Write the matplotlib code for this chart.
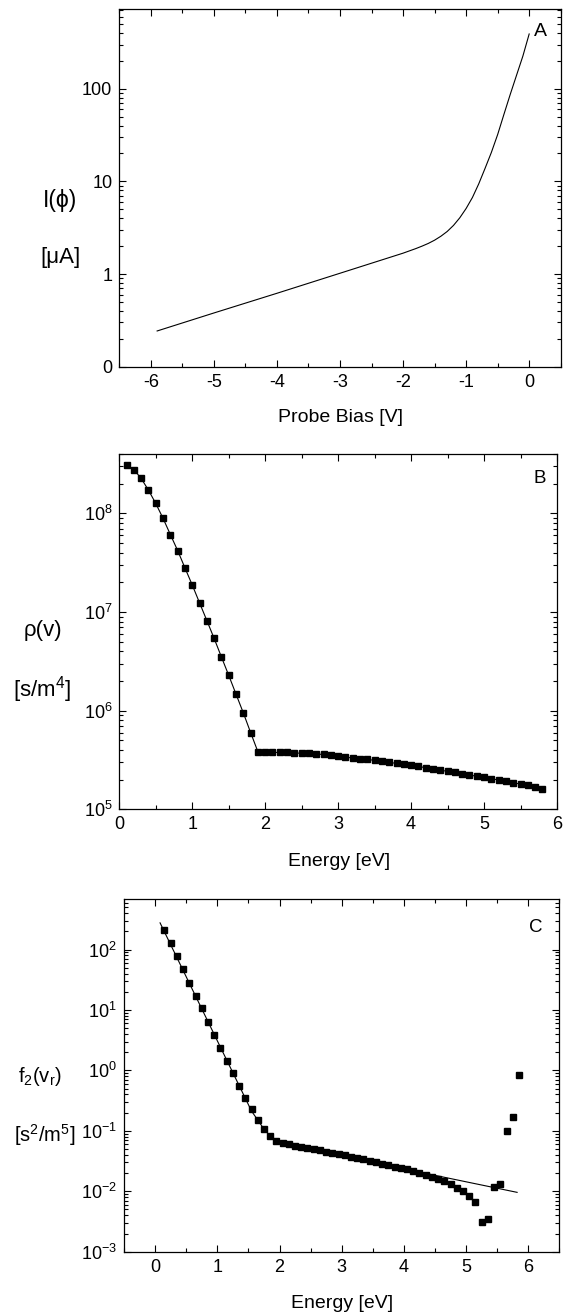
"""
Langmuir probe I-V curve and derived distributions (panels A, B, C)
"""
import matplotlib
matplotlib.use('Agg')
import matplotlib.pyplot as plt
from matplotlib.ticker import (FixedLocator, FixedFormatter, LogLocator,
                               MultipleLocator, LogFormatterMathtext, NullFormatter)

plt.rcParams['font.family'] = ['Liberation Sans', 'DejaVu Sans']
plt.rcParams['mathtext.fontset'] = 'custom'
plt.rcParams['mathtext.rm'] = 'Liberation Sans'
plt.rcParams['mathtext.it'] = 'Liberation Sans:italic'
plt.rcParams['mathtext.default'] = 'rm'
plt.rcParams['axes.unicode_minus'] = False

# Panel A: probe current vs bias
bias = [-5.9, -5.0, -4.0, -3.0, -2.0, -1.8, -1.7, -1.6, -1.5, -1.4, -1.3, -1.2,
        -1.1, -1.0, -0.9, -0.8, -0.7, -0.6, -0.5, -0.4, -0.3, -0.2, -0.1, 0.0]
current = [0.243, 0.38, 0.62, 1.02, 1.68, 1.88, 2.0, 2.14, 2.32, 2.56, 2.88, 3.35,
           4.05, 5.1, 6.7, 9.4, 13.8, 20.5, 32.0, 53.0, 87.0, 140.0, 225.0, 390.0]

# Panel B: rho(v) vs energy
energy_b = [0.1, 0.2, 0.3, 0.4, 0.5, 0.6, 0.7, 0.8, 0.9, 1.0,
            1.1, 1.2, 1.3, 1.4, 1.5, 1.6, 1.7, 1.8, 1.9, 2.0,
            2.1, 2.2, 2.3, 2.4, 2.5, 2.6, 2.7, 2.8, 2.9, 3.0,
            3.1, 3.2, 3.3, 3.4, 3.5, 3.6, 3.7, 3.8, 3.9, 4.0,
            4.1, 4.2, 4.3, 4.4, 4.5, 4.6, 4.7, 4.8, 4.9, 5.0,
            5.1, 5.2, 5.3, 5.4, 5.5, 5.6, 5.7, 5.8]
rho = [3.1e8, 2.78e8, 2.26e8, 1.72e8, 1.26e8, 8.9e7, 6.1e7, 4.2e7, 2.8e7, 1.88e7,
       1.24e7, 8.2e6, 5.4e6, 3.5e6, 2.28e6, 1.47e6, 9.5e5, 6.0e5, 3.83e5, 3.77e5,
       3.77e5, 3.77e5, 3.80e5, 3.74e5, 3.69e5, 3.69e5, 3.63e5, 3.60e5, 3.52e5, 3.46e5,
       3.38e5, 3.31e5, 3.26e5, 3.21e5, 3.13e5, 3.06e5, 2.99e5, 2.92e5, 2.85e5, 2.79e5,
       2.72e5, 2.64e5, 2.58e5, 2.50e5, 2.42e5, 2.37e5, 2.30e5, 2.23e5, 2.16e5, 2.11e5,
       2.04e5, 1.98e5, 1.92e5, 1.86e5, 1.80e5, 1.75e5, 1.70e5, 1.62e5]

# Panel C: f2(vr) vs energy, with fitted curve
energy_c = [0.15, 0.25, 0.35, 0.45, 0.55, 0.65, 0.75, 0.85, 0.95, 1.05,
            1.15, 1.25, 1.35, 1.45, 1.55, 1.65, 1.75, 1.85, 1.95, 2.05,
            2.15, 2.25, 2.35, 2.45, 2.55, 2.65, 2.75, 2.85, 2.95, 3.05,
            3.15, 3.25, 3.35, 3.45, 3.55, 3.65, 3.75, 3.85, 3.95, 4.05,
            4.15, 4.25, 4.35, 4.45, 4.55, 4.65, 4.75, 4.85, 4.95, 5.05,
            5.15, 5.25, 5.35, 5.45, 5.55, 5.65, 5.75, 5.85]
f2 = [214, 131, 77.6, 47.3, 28.5, 17.3, 10.6, 6.36, 3.83, 2.36,
      1.44, 0.89, 0.556, 0.347, 0.226, 0.154, 0.107, 0.0818, 0.0676, 0.0619,
      0.0596, 0.0566, 0.0538, 0.0518, 0.0499, 0.0474, 0.0451, 0.0428, 0.0407, 0.0392,
      0.0372, 0.0354, 0.0337, 0.0316, 0.0300, 0.0286, 0.0272, 0.0255, 0.0242, 0.0230,
      0.0216, 0.0203, 0.0188, 0.0174, 0.0161, 0.0148, 0.0132, 0.0114, 0.00995, 0.00834,
      0.00672, 0.00306, 0.00343, 0.0119, 0.0132, 0.099, 0.171, 0.845]
fit_energy = [0.08, 0.6, 1.0, 1.4, 1.55, 1.65, 1.75, 1.85, 1.95, 2.05, 3.0, 4.0, 5.0, 5.82]
fit_f2 = [277, 21.8, 3.1, 0.443, 0.213, 0.151, 0.107, 0.082, 0.068, 0.062,
          0.0386, 0.0235, 0.01435, 0.0096]

W, H = 564, 1314
TICK_FS = 13
XLABEL_FS = 14


def style_axes(ax):
    for s in ax.spines.values():
        s.set_linewidth(0.9)
    ax.tick_params(which='both', direction='in', top=True, right=True,
                   width=0.8, labelsize=TICK_FS, pad=5)
    ax.tick_params(which='major', length=5)
    ax.tick_params(which='minor', length=2.8)


def fig_text(fig, x, y, s, **kw):
    fig.text(x / W, 1 - y / H, s, ha='center', va='center', **kw)


fig = plt.figure(figsize=(W / 100, H / 100), dpi=100)

# ---- Panel A
axA = fig.add_axes([119.3 / W, 1 - 366.7 / H, 441.4 / W, 357.4 / H])
axA.plot(bias, current, color='black', linewidth=0.8)
axA.set_yscale('log')
axA.set_xlim(-6.5, 0.5)
axA.set_ylim(0.1, 720)
axA.xaxis.set_major_locator(MultipleLocator(1))
axA.xaxis.set_minor_locator(MultipleLocator(0.5))
axA.yaxis.set_major_locator(FixedLocator([0.1, 1, 10, 100]))
axA.yaxis.set_major_formatter(FixedFormatter(['0', '1', '10', '100']))
axA.yaxis.set_minor_locator(LogLocator(base=10, subs=range(2, 10)))
axA.yaxis.set_minor_formatter(NullFormatter())
style_axes(axA)
fig_text(fig, 60, 200, 'I(ϕ)', fontsize=16.5)
fig_text(fig, 61, 258, '[μA]', fontsize=16)
fig_text(fig, 340, 418, 'Probe Bias [V]', fontsize=XLABEL_FS)
fig_text(fig, 540, 31, 'A', fontsize=14)

# ---- Panel B
axB = fig.add_axes([119.3 / W, 1 - 809.3 / H, 437.7 / W, 355.3 / H])
axB.plot(energy_b, rho, color='black', linewidth=0.8, marker='s',
         markersize=4.4, markerfacecolor='black', markeredgecolor='black')
axB.set_yscale('log')
axB.set_xlim(0, 6)
axB.set_ylim(1e5, 4e8)
axB.xaxis.set_major_locator(MultipleLocator(1))
axB.xaxis.set_minor_locator(MultipleLocator(0.5))
axB.yaxis.set_major_locator(LogLocator(base=10))
axB.yaxis.set_major_formatter(LogFormatterMathtext())
axB.yaxis.set_minor_locator(LogLocator(base=10, subs=range(2, 10)))
axB.yaxis.set_minor_formatter(NullFormatter())
style_axes(axB)
fig_text(fig, 42.5, 631, 'ρ(v)', fontsize=16)
fig_text(fig, 42.5, 690, '[s/m$^4$]', fontsize=16)
fig_text(fig, 339, 862, 'Energy [eV]', fontsize=XLABEL_FS)
fig_text(fig, 540, 479, 'B', fontsize=13.5)

# ---- Panel C
axC = fig.add_axes([124 / W, 1 - 1251.7 / H, 435.4 / W, 352.4 / H])
axC.plot(fit_energy, fit_f2, color='black', linewidth=0.8)
axC.plot(energy_c, f2, linestyle='none', marker='s', markersize=4.4,
         markerfacecolor='black', markeredgecolor='black')
axC.set_yscale('log')
axC.set_xlim(-0.5, 6.5)
axC.set_ylim(1e-3, 680)
axC.xaxis.set_major_locator(MultipleLocator(1))
axC.xaxis.set_minor_locator(MultipleLocator(0.5))
axC.yaxis.set_major_locator(LogLocator(base=10))
axC.yaxis.set_major_formatter(LogFormatterMathtext())
axC.yaxis.set_minor_locator(LogLocator(base=10, subs=range(2, 10)))
axC.yaxis.set_minor_formatter(NullFormatter())
style_axes(axC)
fig_text(fig, 40, 1077, 'f$_2$(v$_r$)', fontsize=14.5)
fig_text(fig, 45, 1135, '[s$^2$/m$^5$]', fontsize=14.5)
fig_text(fig, 342, 1303, 'Energy [eV]', fontsize=XLABEL_FS)
fig_text(fig, 536, 927, 'C', fontsize=13.5)

fig.savefig('out.png', dpi=100)
plt.close(fig)
print("saved out.png")
